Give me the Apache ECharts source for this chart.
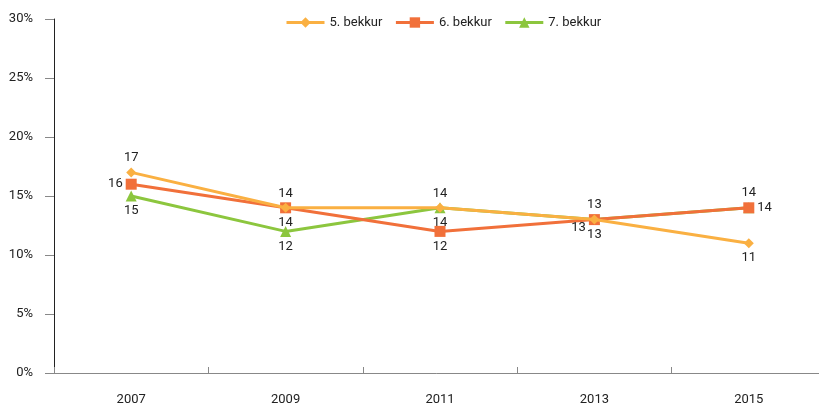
<!DOCTYPE html>
<html>
<head>
<meta charset="utf-8">
<script src="https://cdn.jsdelivr.net/npm/echarts@6/dist/echarts.min.js"></script>
<style>
  html, body { margin: 0; padding: 0; background: #fff; }
  #chart { width: 819px; height: 408px; }
</style>
</head>
<body>
<div id="chart"></div>
<script>
const years = ['2007', '2009', '2011', '2013', '2015']
const bekkur5 = [17, 14, 14, 13, 11]
const bekkur6 = [16, 14, 12, 13, 14]
const bekkur7 = [15, 12, 14, 13, 14]

// where each point's label sits (picked to match the reference)
const pos5 = ['top', 'top', 'top', 'top', 'bottom']
const pos6 = ['left', 'bottom', 'bottom', 'left', 'right']
const pos7 = ['bottom', 'bottom', 'bottom', 'bottom', 'top']

const font = 'Roboto'

function withLabels (values, positions, offsets) {
  return values.map(function (v, i) {
    const label = { position: positions[i] }
    if (offsets && offsets[i]) label.offset = offsets[i]
    return { value: v, label: label }
  })
}

function lineSeries (name, values, positions, color, symbol, size, z, offsets) {
  return {
    name: name,
    type: 'line',
    z: z,
    data: withLabels(values, positions, offsets),
    symbol: symbol,
    symbolSize: size,
    lineStyle: { width: 3, color: color },
    itemStyle: { color: color },
    label: {
      show: true,
      color: '#222',
      fontFamily: font,
      fontSize: 13,
      distance: 3
    }
  }
}

const chart = echarts.init(document.getElementById('chart'))
chart.setOption({
  animation: false,
  // the last category runs a little past the right edge in the reference
  grid: { left: 54, width: 772, top: 19, bottom: 35, outerBoundsMode: 'none', containLabel: false },
  legend: {
    top: 11,
    left: 280,
    itemWidth: 38,
    itemHeight: 13,
    itemGap: 12,
    lineStyle: { width: 3 },
    textStyle: { fontFamily: font, fontSize: 13, color: '#222' },
    data: ['5. bekkur', '6. bekkur', '7. bekkur']
  },
  xAxis: {
    type: 'category',
    data: years,
    boundaryGap: true,
    axisLine: { lineStyle: { color: '#888', width: 1 } },
    axisTick: { show: true, inside: true, length: 6, lineStyle: { color: '#888' } },
    axisLabel: { margin: 20, color: '#222', fontFamily: font, fontSize: 13 }
  },
  yAxis: {
    type: 'value',
    min: 0,
    max: 30,
    interval: 5,
    axisLine: { show: true, lineStyle: { color: '#222', width: 1 } },
    axisTick: { show: true, length: 9, lineStyle: { color: '#888' } },
    splitLine: { show: false },
    axisLabel: {
      margin: 21,
      color: '#222',
      fontFamily: font,
      fontSize: 13,
      formatter: '{value}%'
    }
  },
  series: [
    lineSeries('5. bekkur', bekkur5, pos5, '#FAB042', 'diamond', 10, 4),
    lineSeries('6. bekkur', bekkur6, pos6, '#F1703A', 'rect', 11, 3,
      [null, null, null, [0, 8], null]),
    lineSeries('7. bekkur', bekkur7, pos7, '#8CC63E', 'triangle', 11, 2)
  ]
})
</script>
</body>
</html>
